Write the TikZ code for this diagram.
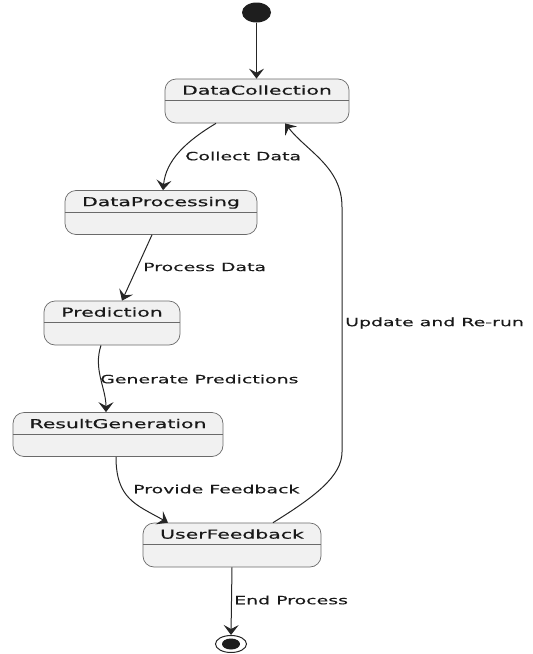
\documentclass[tikz,border=0pt]{standalone}
\usepackage{fontspec}
\usetikzlibrary{arrows.meta,calc,shapes.geometric}
\newfontfamily\statefont[FakeStretch=1.66,FakeBold=0.4]{DejaVu Sans}
\newfontfamily\edgefont[FakeStretch=1.66,FakeBold=0.3]{DejaVu Sans}
\definecolor{statefill}{HTML}{F1F1F1}
\definecolor{stateline}{HTML}{6A6A6A}
\definecolor{flowline}{HTML}{262626}
\definecolor{dotfill}{HTML}{1E1E1E}
\tikzset{
  statebox/.style={draw=stateline, fill=statefill, line width=0.7pt,
    rounded corners=11pt, minimum height=44pt, inner sep=0pt},
  statename/.style={font=\statefont\fontsize{12.3}{14}\selectfont,
    text=black!90, anchor=base, inner sep=0pt},
  sepline/.style={draw=stateline, line width=0.7pt},
  edgelabel/.style={font=\edgefont\fontsize{11.4}{13}\selectfont,
    text=black!90, anchor=west, inner sep=0pt},
  flow/.style={draw=flowline, line width=1pt,
    -{Stealth[length=10pt,width=15pt,inset=4pt]}},
}
\begin{document}
\begin{tikzpicture}[x=1pt,y=-1pt]
\useasboundingbox (0,0) rectangle (533,654);

% initial and final pseudo-states
\node[fill=dotfill, shape=ellipse, minimum width=29pt, minimum height=20pt,
  inner sep=0pt] (start) at (256.5,12.5) {};
\node[draw=flowline, line width=1pt, fill=white, shape=ellipse,
  minimum width=31pt, minimum height=17pt, inner sep=0pt] (finish) at (231,644) {};
\node[fill=dotfill, shape=ellipse, minimum width=18pt, minimum height=11pt,
  inner sep=0pt] (finishdot) at (finish.center) {};

% states
\node[statebox, minimum width=184pt] (dc) at (257,101) {};
\node[statebox, minimum width=192pt] (dp) at (161,212.5) {};
\node[statebox, minimum width=136pt] (pr) at (112,323) {};
\node[statebox, minimum width=210pt] (rg) at (118,434.5) {};
\node[statebox, minimum width=178pt] (uf) at (232,545) {};

\foreach \s/\t in {dc/DataCollection, dp/DataProcessing, pr/Prediction,
                   rg/ResultGeneration, uf/UserFeedback}{
  \node[statename] (\s-name) at ([yshift=-16pt]\s.north) {\t};
  \draw[sepline] ([yshift=-22pt]\s.north west) -- ([yshift=-22pt]\s.north east);
}

% transitions
\draw[flow] (start.south) -- (start.south |- dc.north);
\draw[flow] ([xshift=-41pt]dc.south) .. controls +(-30,18) and +(3,-30) .. ([xshift=2pt]dp.north);
\draw[flow] ([xshift=-9pt]dp.south) -- ([xshift=10pt]pr.north);
\draw[flow] ([xshift=-11pt]pr.south) .. controls +(-8,24) and +(0,-24) .. ([xshift=-12pt]rg.north);
\draw[flow] ([xshift=-2pt]rg.south) .. controls +(0,42) and +(-32,-18) .. ([xshift=-64pt]uf.north);
\coordinate (rlow) at (342,452);
\coordinate (rhigh) at (342,207);
\draw[flow] ([xshift=41pt]uf.north) .. controls +(42,-26) and +(0,24) .. (rlow)
  -- (rhigh) .. controls +(0,-40) and +(22,28) .. ([xshift=28pt]dc.south);
\draw[flow] (uf.south) -- (finish.north);

% transition labels
\node[edgelabel] (l1) at (185,156) {Collect Data};
\node[edgelabel] (l2) at (143,267) {Process Data};
\node[edgelabel] (l3) at (100,379) {Generate Predictions};
\node[edgelabel] (l4) at (133,489) {Provide Feedback};
\node[edgelabel] (l5) at (345,323) {Update and Re-run};
\node[edgelabel] (l6) at (234,600) {End Process};
\end{tikzpicture}
\end{document}
